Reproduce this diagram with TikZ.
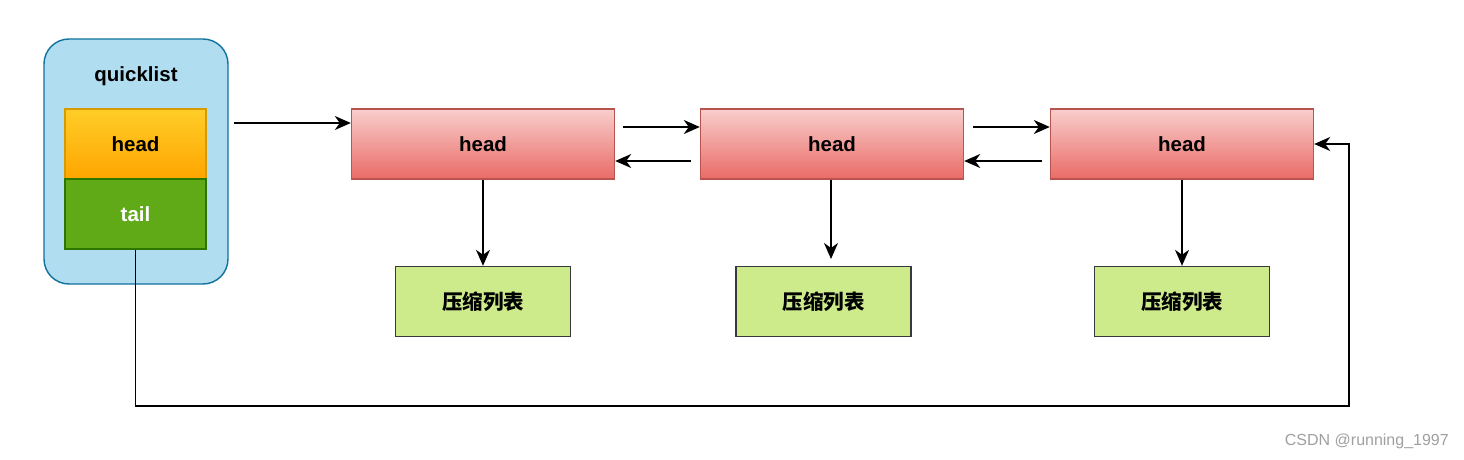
\documentclass[tikz,border=0pt]{standalone}
\usepackage{fontspec}
\setmainfont{Liberation Sans}
\newfontfamily\cjk{Noto Sans CJK SC}
\usetikzlibrary{arrows.meta}
\definecolor{qlfill}{HTML}{B1DDF0}
\definecolor{qlstroke}{HTML}{10739E}
\definecolor{hdtop}{HTML}{FFCD28}
\definecolor{hdbot}{HTML}{FFA500}
\definecolor{hdstroke}{HTML}{D79B00}
\definecolor{tlfill}{HTML}{60A917}
\definecolor{tlstroke}{HTML}{2D7600}
\definecolor{rtop}{HTML}{F8CECC}
\definecolor{rbot}{HTML}{EA6B66}
\definecolor{rstroke}{HTML}{B85450}
\definecolor{gfill}{HTML}{CDEB8B}
\definecolor{gstroke}{HTML}{36393D}
\definecolor{wm}{HTML}{A0A0A0}
\tikzset{
  every node/.style={font=\bfseries\fontsize{20.5}{24}\selectfont, inner sep=0pt},
  qlbox/.style={draw=qlstroke, fill=qlfill, rounded corners=25pt, line width=1.4pt, minimum width=184pt, minimum height=245pt},
  hdbox/.style={draw=hdstroke, top color=hdtop, bottom color=hdbot, line width=1.4pt, minimum width=141pt, minimum height=70pt},
  tlbox/.style={draw=tlstroke, fill=tlfill, text=white, line width=1.4pt, minimum width=141pt, minimum height=70pt},
  nodebox/.style={draw=rstroke, top color=rtop, bottom color=rbot, line width=1.4pt, minimum width=263pt, minimum height=70pt},
  zlbox/.style={draw=gstroke, fill=gfill, line width=1.4pt, minimum width=175pt, minimum height=70pt, font=\cjk\bfseries\fontsize{20.5}{24}\selectfont},
  conn/.style={line width=1.6pt, -{Stealth[length=16pt,width=14pt,inset=5pt]}}
}
\begin{document}
\begin{tikzpicture}[x=1pt,y=-1pt]
\useasboundingbox (0,0) rectangle (1464,460);
\fill[white] (0,0) rectangle (1464,460);
% quicklist
\node[qlbox] (ql) at (136,161.5) {};
\node (qlt) at (136,76) {quicklist};
\node[hdbox] (qh) at (135.5,144) {head};
\node[tlbox] (qt) at (135.5,214) {tail};
% nodes
\node[nodebox] (n1) at (483,144) {head};
\node[nodebox] (n2) at (832,144) {head};
\node[nodebox] (n3) at (1182,144) {head};
% ziplists
\node[zlbox] (z1) at (483,301.5) {压缩列表};
\node[zlbox] (z2) at (823.5,301.5) {压缩列表};
\node[zlbox] (z3) at (1182,301.5) {压缩列表};
% coordinates
\coordinate (a0) at (234,123);
\coordinate (a1) at (623,127);
\coordinate (a2) at (691,161);
\coordinate (b1) at (973,127);
\coordinate (b2) at (1042,161);
\coordinate (d2) at (831,259);
\coordinate (c1) at (135.5,406);
\coordinate (c2) at (1349,406);
\coordinate (c3) at (1349,144);
% connectors
\draw[conn] (a0) -- (n1.west |- a0);
\draw[conn] (a1) -- (n2.west |- a1);
\draw[conn] (a2) -- (n1.east |- a2);
\draw[conn] (b1) -- (n3.west |- b1);
\draw[conn] (b2) -- (n2.east |- b2);
\draw[conn] (n1.south) -- (z1.north);
\draw[conn] (n2.south -| d2) -- (d2);
\draw[conn] (n3.south) -- (z3.north);
\draw[conn] (qt.south) -- (c1) -- (c2) -- (c3) -- (n3.east);
% watermark
\node[font=\fontsize{16}{18}\selectfont, text=wm, anchor=east] (wmk) at (1449,441) {CSDN @running\_1997};
\end{tikzpicture}
\end{document}
